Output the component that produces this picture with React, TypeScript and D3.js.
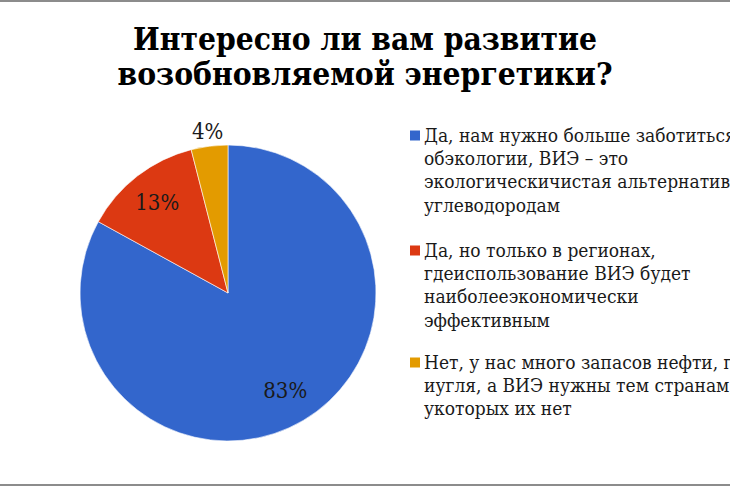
import React, { useEffect, useRef } from 'react';
import * as d3 from 'd3';

const titleLines = ['Интересно ли вам развитие', 'возобновляемой энергетики?'];

const categories = ['yes', 'regions', 'no'];
const shares = [83, 13, 4];
const colors = ['#3366CC', '#DC3912', '#E39B00'];
const valueLabels = ['83%', '13%', '4%'];

const legendLines = [
  ['Да, нам нужно больше заботиться о', 'обэкологии, ВИЭ – это', 'экологическичистая альтернатива', 'углеводородам'],
  ['Да, но только в регионах,', 'гдеиспользование ВИЭ будет', 'наиболееэкономически', 'эффективным'],
  ['Нет, у нас много запасов нефти, газа', 'иугля, а ВИЭ нужны тем странам,', 'укоторых их нет'],
];

const serif = "'DejaVu Serif Condensed', 'DejaVu Serif', serif";

const App: React.FC = () => {
  const svgRef = useRef<SVGSVGElement>(null);

  useEffect(() => {
    document.body.style.margin = '0';
    if (!svgRef.current) return;

    const svg = d3.select(svgRef.current);
    svg.selectAll('*').remove();

    const width = 730;
    const height = 486;

    svg.attr('width', width).attr('height', height).style('display', 'block');

    svg.append('rect').attr('width', width).attr('height', height).attr('fill', '#ffffff');

    // grey frame lines at top and bottom
    svg.append('rect').attr('x', 0).attr('y', 0).attr('width', width).attr('height', 2).attr('fill', '#8c8c8c');
    svg.append('rect').attr('x', 0).attr('y', height - 2).attr('width', width).attr('height', 2).attr('fill', '#8c8c8c');

    // Title
    const titleWidths = [464, 495];
    const titleBase = [49.5, 85];
    titleLines.forEach((line, i) => {
      svg.append('text')
        .attr('x', 365)
        .attr('y', titleBase[i])
        .attr('text-anchor', 'middle')
        .attr('textLength', titleWidths[i])
        .attr('lengthAdjust', 'spacingAndGlyphs')
        .attr('font-family', serif)
        .attr('font-weight', 'bold')
        .attr('font-size', 31.5)
        .attr('fill', '#000')
        .text(line);
    });

    // Pie
    const cx = 228;
    const cy = 293;
    const radius = 148;

    const data = categories.map((c, i) => ({ key: c, value: shares[i], color: colors[i], label: valueLabels[i] }));

    const pie = d3.pie<any>().value(d => d.value).sort(null);
    const arc = d3.arc<any>().innerRadius(0).outerRadius(radius);

    const g = svg.append('g').attr('transform', `translate(${cx}, ${cy})`);
    const arcs = pie(data);

    g.selectAll('path.slice')
      .data(arcs)
      .enter()
      .append('path')
      .attr('class', 'slice')
      .attr('d', arc)
      .attr('fill', d => d.data.color)
      .attr('stroke', '#ffffff')
      .attr('stroke-width', 0.6);

    // value labels; the small slice puts its label outside
    const labelRadius = [radius * 0.76, radius * 0.78, radius * 1.1];
    arcs.forEach((a, i) => {
      const mid = (a.startAngle + a.endAngle) / 2;
      const r = labelRadius[i];
      svg.append('text')
        .attr('x', cx + Math.sin(mid) * r)
        .attr('y', cy - Math.cos(mid) * r)
        .attr('dy', '0.36em')
        .attr('text-anchor', 'middle')
        .attr('font-family', serif)
        .attr('font-size', 22)
        .attr('fill', '#1a1a1a')
        .text(a.data.label);
    });

    // Legend
    const legendX = 410;
    const itemTop = [141.5, 256.5, 368.5];
    const lineStep = 23.4;
    legendLines.forEach((lines, i) => {
      svg.append('rect')
        .attr('x', legendX)
        .attr('y', itemTop[i] - 11)
        .attr('width', 10)
        .attr('height', 10)
        .attr('fill', colors[i]);
      lines.forEach((line, j) => {
        svg.append('text')
          .attr('x', legendX + 14)
          .attr('y', itemTop[i] + j * lineStep)
          .attr('font-family', serif)
          .attr('font-size', 19)
          .attr('fill', '#1a1a1a')
          .text(line);
      });
    });
  }, []);

  return <svg ref={svgRef}></svg>;
};

export default App;
